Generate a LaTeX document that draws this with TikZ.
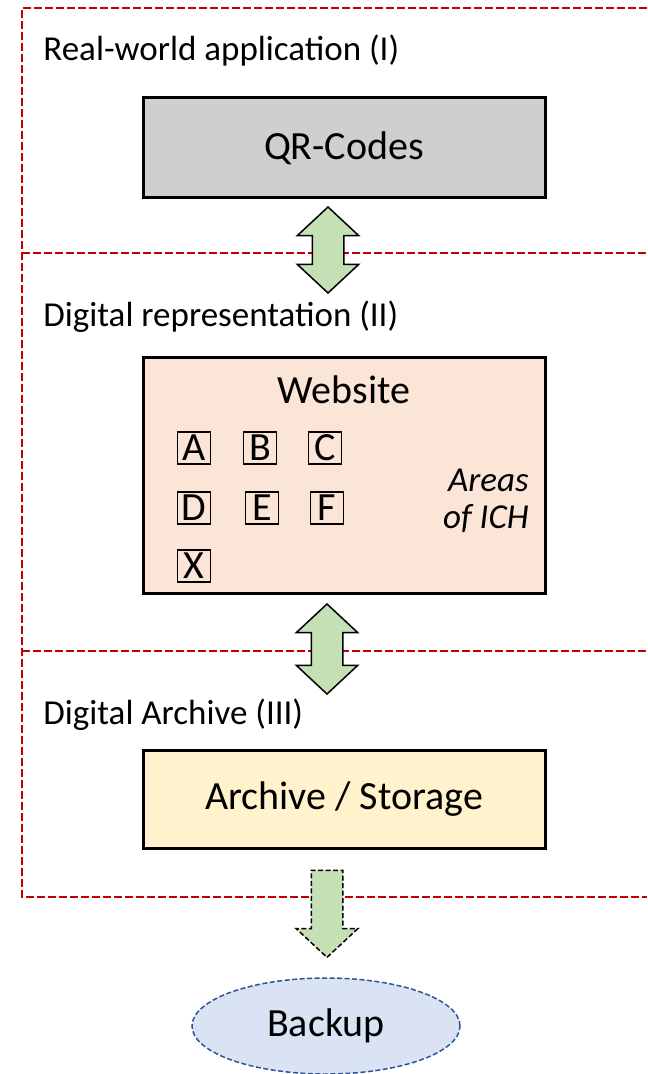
\documentclass[tikz,border=0pt]{standalone}
\usepackage{fontspec}
\setmainfont{Carlito}
\usepackage{xcolor}
\usepackage{tikz}
\usetikzlibrary{shapes.geometric,shapes.arrows}
\definecolor{layerRed}{HTML}{C00000}
\definecolor{qrGray}{HTML}{D0CECE}
\definecolor{webPeach}{HTML}{FBE5D6}
\definecolor{archYellow}{HTML}{FFF2CC}
\definecolor{backupBlue}{HTML}{DAE3F3}
\definecolor{backupEdge}{HTML}{2F5597}
\definecolor{linkGreen}{HTML}{C5E0B4}
\newcommand{\bigtext}{\fontsize{20}{24}\selectfont}
\newcommand{\smalltext}{\fontsize{17.5}{18.5}\selectfont}

\begin{document}
\begin{tikzpicture}[x=0.5pt, y=-0.5pt,
  layer/.style={layerRed, line width=1.4pt, dash pattern=on 4pt off 1.5pt},
  sect/.style={anchor=west, inner sep=0pt, font=\smalltext},
  block/.style={draw=black, line width=1.5pt, minimum width=201pt, align=center, font=\bigtext},
  area/.style={draw=black, line width=0.9pt, inner sep=0pt, minimum width=16.5pt, minimum height=16pt, text height=12.9pt, text depth=0pt, font=\bigtext},
  dbllink/.style={double arrow, draw=black, fill=linkGreen, line width=0.75pt, rotate=90, inner xsep=0pt, inner ysep=7.5pt, minimum height=43pt, double arrow head extend=7.5pt, double arrow tip angle=94},
  backlink/.style={single arrow, draw=black, fill=linkGreen, line width=0.75pt, dash pattern=on 2.5pt off 1.25pt, rotate=-90, inner xsep=0pt, inner ysep=7.5pt, minimum height=43.5pt, single arrow head extend=7.5pt, single arrow tip angle=94}]
\useasboundingbox (0,0) rectangle (647,1074);

% layer frame, open on the right
\draw[layer] (647,8) -- (22,8) -- (22,897) -- (647,897);
\draw[layer] (22,253) -- (647,253);
\draw[layer] (22,651) -- (647,651);

% layer titles
\node[sect] (t1) at (43,51) {Real-world application (I)};
\node[sect] (t2) at (43,317) {Digital representation (II)};
\node[sect] (t3) at (43,715) {Digital Archive (III)};

% blocks
\node[block, fill=qrGray, minimum height=50pt] (qr) at (344,148) {QR-Codes};
\node[block, fill=webPeach, minimum height=117.5pt] (web) at (344,475.5) {};
\node[font=\bigtext, inner sep=0pt] (webtitle) at (344,390) {Website};
\node[block, fill=archYellow, minimum height=49pt] (arch) at (344,799) {Archive / Storage};
\node[ellipse, draw=backupEdge, fill=backupBlue, line width=0.75pt, dash pattern=on 2.5pt off 1.25pt, minimum width=134pt, minimum height=48pt, font=\bigtext] (backup) at (326,1026) {Backup};

% areas inside the website
\node[area] (aA) at (194,448) {A};
\node[area] (aB) at (260,448) {B};
\node[area] (aC) at (325,448) {C};
\node[area] (aD) at (194,508) {D};
\node[area] (aE) at (262,508) {E};
\node[area] (aF) at (327,508) {F};
\node[area] (aX) at (194,566) {X};
\node[anchor=east, align=right, inner sep=0pt, font=\smalltext\itshape] (ich) at (529,501) {Areas\\of ICH};

% links between layers
\node[dbllink] (l1) at (328,250) {};
\node[dbllink, minimum height=45pt] (l2) at (327,649) {};
\node[backlink] (l3) at (327,906.5) {};
\end{tikzpicture}
\end{document}
